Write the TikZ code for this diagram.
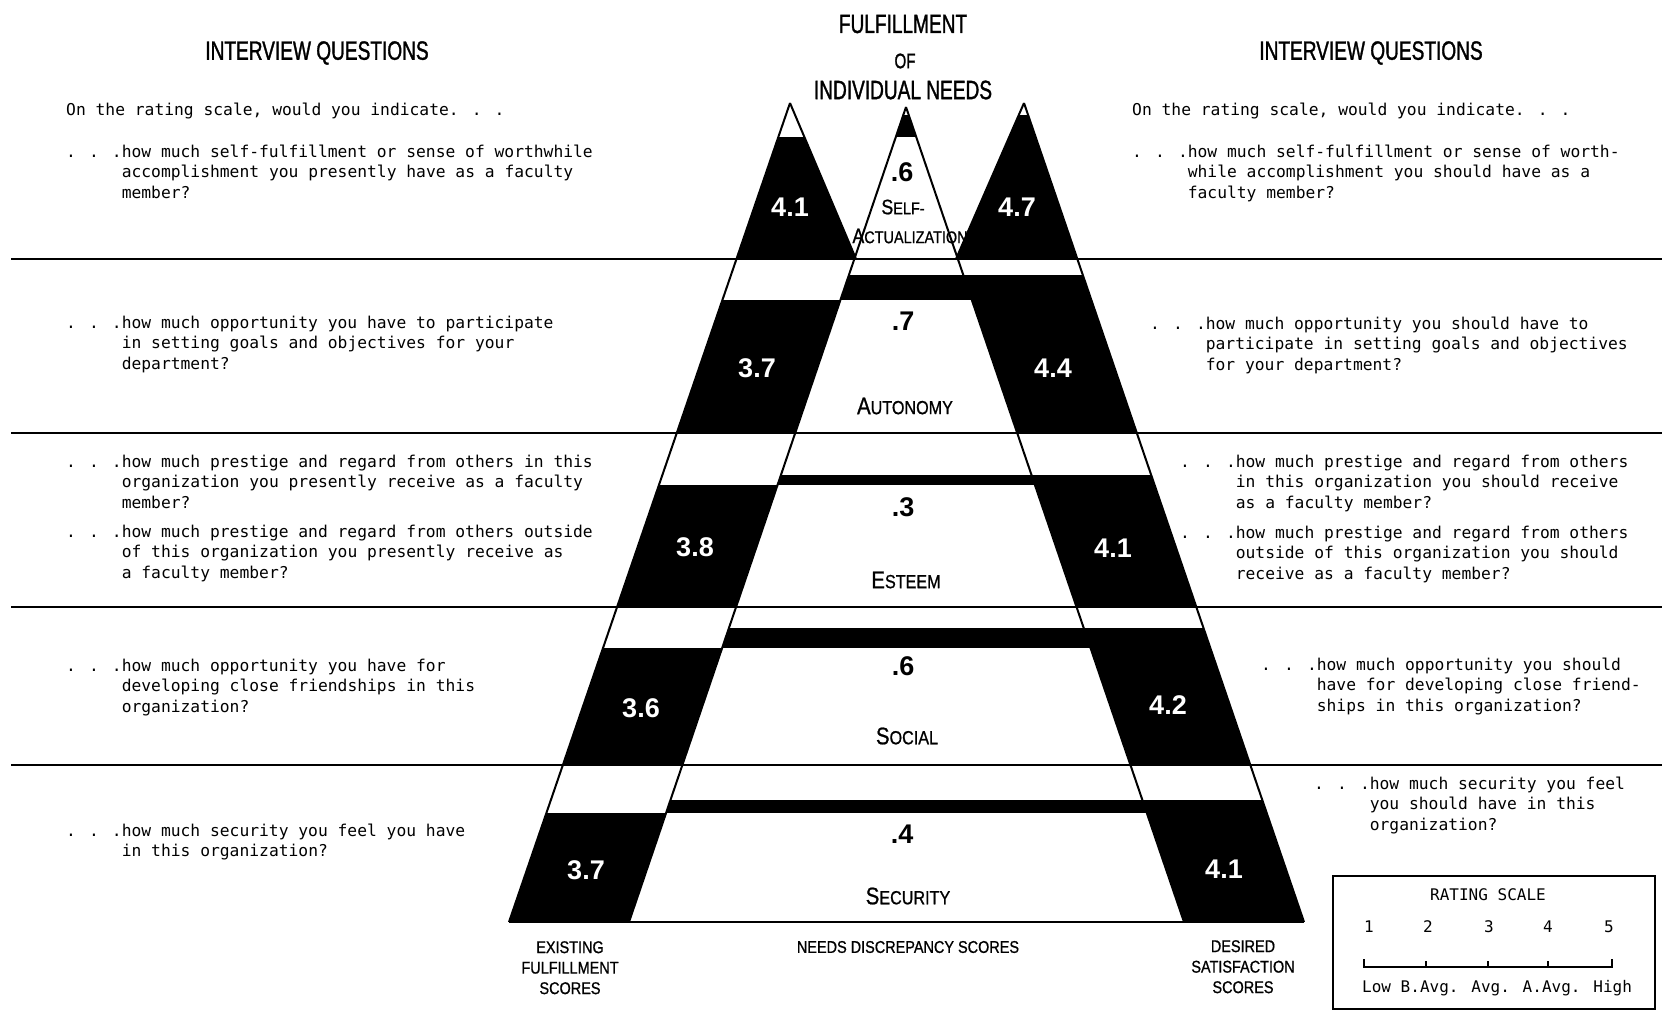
\documentclass[tikz,border=0pt]{standalone}
\usepackage{fontspec}
\usetikzlibrary{calc}
\setmainfont{Liberation Sans}
\newfontfamily\typew{DejaVu Sans Mono}
\newfontfamily\headf[FakeStretch=0.72,FakeBold=1.2]{Liberation Sans}
\newfontfamily\capf[FakeStretch=0.85,FakeBold=0.8]{Liberation Sans}
\newcommand\qfont{\typew\fontsize{16.3}{20.7}\selectfont}
\newcommand\scorefont{\bfseries\fontsize{27}{27}\selectfont}
% small caps imitation: big initial, smaller rest
\newcommand\SmCp[4]{{\fontsize{#1}{#1}\selectfont #3}{\fontsize{#2}{#2}\selectfont #4}}
\newcommand\qindent{\phantom{. . .}}
\begin{document}
\begin{tikzpicture}[x=1pt,y=-1pt,
  edge/.style={line width=2pt},
  bandline/.style={line width=2.4pt},
  qtext/.style={font=\qfont, anchor=north west, align=left, inner sep=0pt},
  score/.style={text=white, font=\scorefont, inner sep=0pt},
  disc/.style={font=\scorefont, inner sep=0pt},
  need/.style={font=\capf, inner sep=0pt},
  head/.style={inner sep=0pt},
  botlab/.style={font=\capf\fontsize{17}{20.5}\selectfont, align=center, inner sep=0pt},
  rs/.style={font=\typew\fontsize{16}{16}\selectfont, inner sep=0pt}]
\useasboundingbox (0,0) rectangle (1662,1013);
\fill[white] (0,0) rectangle (1662,1013);

% ---------- pyramid corner points ----------
\coordinate (LA) at (790,103);
\coordinate (MA) at (906,107);
\coordinate (RA) at (1024,103);
\coordinate (OLt) at (736.5,259);
\coordinate (ILt) at (854.3,259);
\coordinate (IRt) at (957.8,259);
\coordinate (ORt) at (1077.4,259);
\coordinate (LTr) at (856,259);
\coordinate (RTl) at (956,259);
\coordinate (OLb) at (509,922);
\coordinate (ILb) at (629,922);
\coordinate (IRb) at (1184,922);
\coordinate (ORb) at (1304,922);

% label of the top level, partly hidden by the right peak
\node[need] (selfa) at (903,207) {\SmCp{21}{17}{S}{ELF-}};
\node[need] (selfb) at (910,236) {\SmCp{21}{17}{A}{CTUALIZATION}};

% ---------- top level: three peaks ----------
\begin{scope}
  \clip (LA) -- (OLt) -- (LTr) -- cycle;
  \fill (700,137) rectangle (900,259);
\end{scope}
\begin{scope}
  \clip (MA) -- (ILt) -- (IRt) -- cycle;
  \fill (840,115) rectangle (970,137);
\end{scope}
\begin{scope}
  \clip (RA) -- (RTl) -- (ORt) -- cycle;
  \fill (940,115) rectangle (1100,259);
\end{scope}

% ---------- lower levels: top, bottom, desired start, existing start ----------
\foreach \ya/\yb/\yr/\yl in {259/433/275/300, 433/607/475/485, 607/765/628/648, 765/922/800/813}{
  \begin{scope}
    \clip (OLt) -- (ILt) -- (ILb) -- (OLb) -- cycle;
    \fill (400,\yl) rectangle (900,\yb);
  \end{scope}
  \begin{scope}
    \clip (ILt) -- (IRt) -- (IRb) -- (ILb) -- cycle;
    \fill (600,\yr) rectangle (1200,\yl);
  \end{scope}
  \begin{scope}
    \clip (IRt) -- (ORt) -- (ORb) -- (IRb) -- cycle;
    \fill (900,\yr) rectangle (1400,\yb);
  \end{scope}
}

% ---------- outlines ----------
\draw[edge] (LA) -- (OLb);
\draw[edge] (RA) -- (ORb);
\draw[edge] (MA) -- (ILb);
\draw[edge] (MA) -- (IRb);
\draw[edge] (LA) -- (LTr);
\draw[edge] (RA) -- (RTl);
\foreach \y in {259,433,607,765}{
  \draw[bandline] (11,\y) -- (1662,\y);
}
\draw[bandline] (OLb) -- (ORb);

% ---------- scores ----------
\node[disc] (d1) at (902,172) {.6};
\node[score] (e1) at (790,207) {4.1};
\node[score] (s1) at (1017,207) {4.7};

\node[disc] (d2) at (903,321) {.7};
\node[score] (e2) at (757,368) {3.7};
\node[score] (s2) at (1053,368) {4.4};
\node[need] (n2) at (905,406) {\SmCp{24}{19}{A}{UTONOMY}};

\node[disc] (d3) at (903,507) {.3};
\node[score] (e3) at (695,547) {3.8};
\node[score] (s3) at (1113,548) {4.1};
\node[need] (n3) at (906,580) {\SmCp{24}{19}{E}{STEEM}};

\node[disc] (d4) at (903,666) {.6};
\node[score] (e4) at (641,708) {3.6};
\node[score] (s4) at (1168,705) {4.2};
\node[need] (n4) at (907,736) {\SmCp{24}{19}{S}{OCIAL}};

\node[disc] (d5) at (902,834) {.4};
\node[score] (e5) at (586,870) {3.7};
\node[score] (s5) at (1224,869) {4.1};
\node[need] (n5) at (908,896) {\SmCp{24}{19}{S}{ECURITY}};

% ---------- headings ----------
\node[head, font=\headf\fontsize{26.5}{26.5}\selectfont] (t1) at (903,24) {FULFILLMENT};
\node[head, font=\headf\fontsize{21}{21}\selectfont] (t2) at (905,61) {OF};
\node[head, font=\headf\fontsize{26.5}{26.5}\selectfont] (t3) at (903,90) {INDIVIDUAL NEEDS};
\node[head, font=\headf\fontsize{26.5}{26.5}\selectfont] (hl) at (317,53) {INTERVIEW QUESTIONS};
\node[head, font=\headf\fontsize{26.5}{26.5}\selectfont] (hr) at (1371,53) {INTERVIEW QUESTIONS};

% ---------- left questions (existing) ----------
\node[qtext] (lq0) at (66,102.5) {On the rating scale, would you indicate. . .};
\node[qtext] (lq1) at (66,144.5) {. . .how much self-fulfillment or sense of worthwhile\\\qindent accomplishment you presently have as a faculty\\\qindent member?};
\node[qtext] (lq2) at (66,315.5) {. . .how much opportunity you have to participate\\\qindent in setting goals and objectives for your\\\qindent department?};
\node[qtext] (lq3) at (66,454.5) {. . .how much prestige and regard from others in this\\\qindent organization you presently receive as a faculty\\\qindent member?};
\node[qtext] (lq4) at (66,524.5) {. . .how much prestige and regard from others outside\\\qindent of this organization you presently receive as\\\qindent a faculty member?};
\node[qtext] (lq5) at (66,658.5) {. . .how much opportunity you have for\\\qindent developing close friendships in this\\\qindent organization?};
\node[qtext] (lq6) at (66,823.5) {. . .how much security you feel you have\\\qindent in this organization?};

% ---------- right questions (desired) ----------
\node[qtext] (rq0) at (1132,102.5) {On the rating scale, would you indicate. . .};
\node[qtext] (rq1) at (1132,144.5) {. . .how much self-fulfillment or sense of worth-\\\qindent while accomplishment you should have as a\\\qindent faculty member?};
\node[qtext] (rq2) at (1150,316.5) {. . .how much opportunity you should have to\\\qindent participate in setting goals and objectives\\\qindent for your department?};
\node[qtext] (rq3) at (1180,454.5) {. . .how much prestige and regard from others\\\qindent in this organization you should receive\\\qindent as a faculty member?};
\node[qtext] (rq4) at (1180,525.5) {. . .how much prestige and regard from others\\\qindent outside of this organization you should\\\qindent receive as a faculty member?};
\node[qtext] (rq5) at (1261,657.5) {. . .how much opportunity you should\\\qindent have for developing close friend-\\\qindent ships in this organization?};
\node[qtext] (rq6) at (1314,776.5) {. . .how much security you feel\\\qindent you should have in this\\\qindent organization?};

% ---------- column captions ----------
\node[botlab, anchor=north] (cap1) at (570,941) {EXISTING\\FULFILLMENT\\SCORES};
\node[botlab] (cap2) at (908,947) {NEEDS DISCREPANCY SCORES};
\node[botlab, anchor=north] (cap3) at (1243,940) {DESIRED\\SATISFACTION\\SCORES};

% ---------- rating scale key ----------
\draw[line width=2.2pt] (1333,876) rectangle (1655,1009);
\node[rs] (rst) at (1488,895) {RATING SCALE};
\foreach \x/\v in {1369/1,1428/2,1489/3,1548/4,1609/5}{
  \node[rs] (rn\v) at (\x,927) {\v};
}
\coordinate (k1) at (1364,967);
\coordinate (k5) at (1612,967);
\draw[line width=1.8pt] ($(k1)+(0,-8)$) -- (k1) -- (k5) -- ($(k5)+(0,-8)$);
\foreach \x in {1426,1488,1548}{
  \draw[line width=1.6pt] (\x,967) -- (\x,961);
}
\node[rs, anchor=west] (rsl) at (1362,988) {Low B.Avg. Avg. A.Avg. High};
\end{tikzpicture}
\end{document}
